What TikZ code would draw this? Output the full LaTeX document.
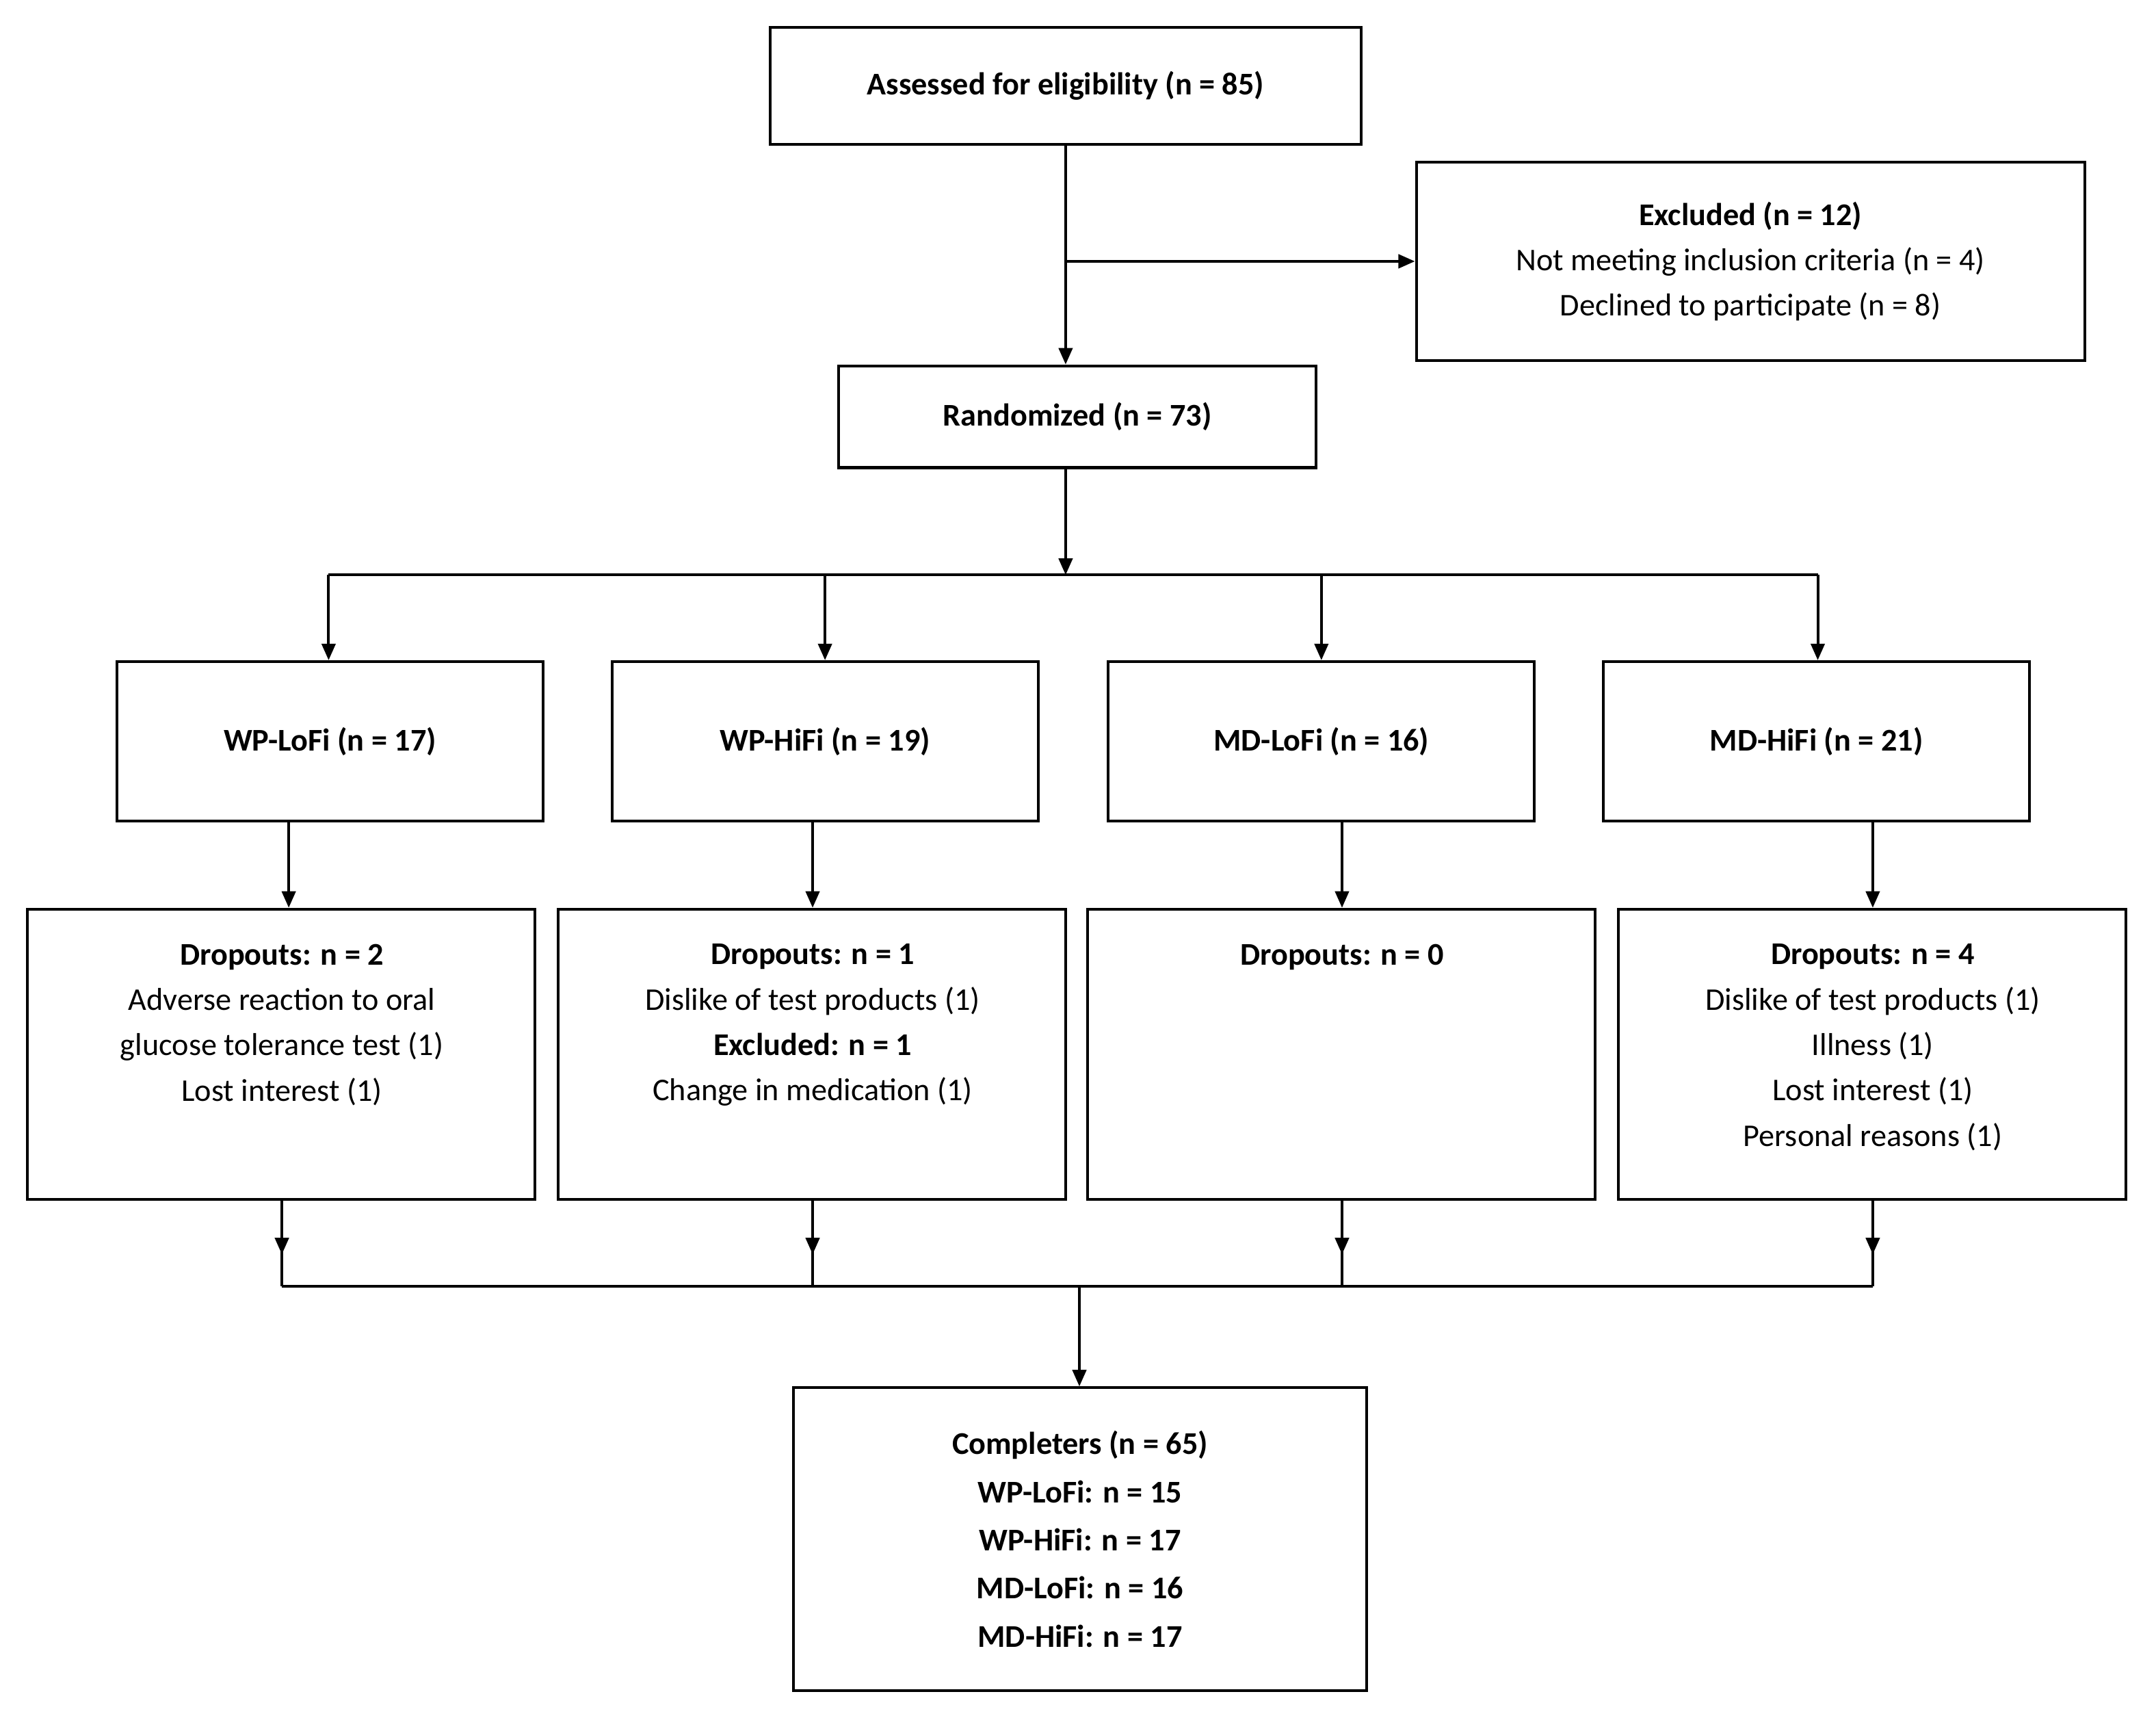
\documentclass[tikz,border=0pt]{standalone}
\usepackage{fontspec}
\setmainfont{Carlito}
\usetikzlibrary{arrows.meta}
\begin{document}
\begin{tikzpicture}[x=0.5pt,y=-0.5pt,
  box/.style={draw,line width=1pt,inner sep=0pt,align=center,font=\fontsize{11.5}{16.5}\selectfont},
  ar/.style={line width=1pt,-{Triangle[length=6pt,width=5pt]}},
  ln/.style={line width=1pt}]
\useasboundingbox (0,0) rectangle (1568,1249);
\newcommand{\bx}[6]{\node[box,minimum width=#4*0.5pt-#2*0.5pt,minimum height=#5*0.5pt-#3*0.5pt] (#1) at ({(#2+#4)/2},{(#3+#5)/2}) {#6};}
\bx{a}{560}{20}{990}{105}{\textbf{Assessed for eligibility (n = 85)}}
\bx{ex}{1030}{118}{1516}{262}{\textbf{Excluded (n = 12)}\\Not meeting inclusion criteria (n = 4)\\Declined to participate (n = 8)}
\bx{r}{610}{266}{957}{340}{\textbf{Randomized (n = 73)}}
\bx{g1}{85}{481}{395}{597}{\textbf{WP-LoFi (n = 17)}}
\bx{g2}{445}{481}{755}{597}{\textbf{WP-HiFi (n = 19)}}
\bx{g3}{806}{481}{1116}{597}{\textbf{MD-LoFi (n = 16)}}
\bx{g4}{1166}{481}{1476}{597}{\textbf{MD-HiFi (n = 21)}}
\bx{d1}{20}{661}{389}{872}{}
\bx{d2}{406}{661}{775}{872}{}
\bx{d3}{791}{661}{1160}{872}{}
\bx{d4}{1177}{661}{1546}{872}{}
\bx{c}{577}{1009}{994}{1229}{\textbf{Completers (n = 65)}\\[1pt]\textbf{WP-LoFi: n = 15}\\[1pt]\textbf{WP-HiFi: n = 17}\\[1pt]\textbf{MD-LoFi: n = 16}\\[1pt]\textbf{MD-HiFi: n = 17}}
\tikzset{dt/.style={align=center,anchor=north,inner sep=0pt,font=\fontsize{11.5}{16.5}\selectfont}}
\node[dt] (t1) at (205,686) {\textbf{Dropouts: n = 2}\\Adverse reaction to oral\\glucose tolerance test (1)\\Lost interest (1)};
\node[dt] (t2) at (591,686) {\textbf{Dropouts: n = 1}\\Dislike of test products (1)\\\textbf{Excluded: n = 1}\\Change in medication (1)};
\node[dt] (t3) at (976,686) {\textbf{Dropouts: n = 0}};
\node[dt] (t4) at (1362,686) {\textbf{Dropouts: n = 4}\\Dislike of test products (1)\\Illness (1)\\Lost interest (1)\\Personal reasons (1)};
% top
\coordinate (j) at (775,190);
\draw[ar] (a.south -| j) -- (r.north -| j);
\draw[ar] (j) -- (ex.west |- j);
\coordinate (rb) at (775,418);
\draw[ar] (r.south -| rb) -- (rb);
\coordinate (h1) at (239,418); \coordinate (h4) at (1322,418);
\draw[ln] (h1) -- (h4);
\foreach \x/\g in {239/g1,600/g2,961/g3,1322/g4}{\draw[ar] (\x,418) -- (\g.north -| \x,0);}
\foreach \x/\g/\d in {210/g1/d1,591/g2/d2,976/g3/d3,1362/g4/d4}{\draw[ar] (\g.south -| \x,0) -- (\d.north -| \x,0);}
\foreach \x/\d in {205/d1,591/d2,976/d3,1362/d4}{\draw[ar] (\d.south -| \x,0) -- (\x,912); \draw[ln] (\x,910) -- (\x,935);}
\draw[ln] (205,935) -- (1362,935);
\draw[ar] (785,935) -- (c.north -| 785,0);
\end{tikzpicture}
\end{document}
